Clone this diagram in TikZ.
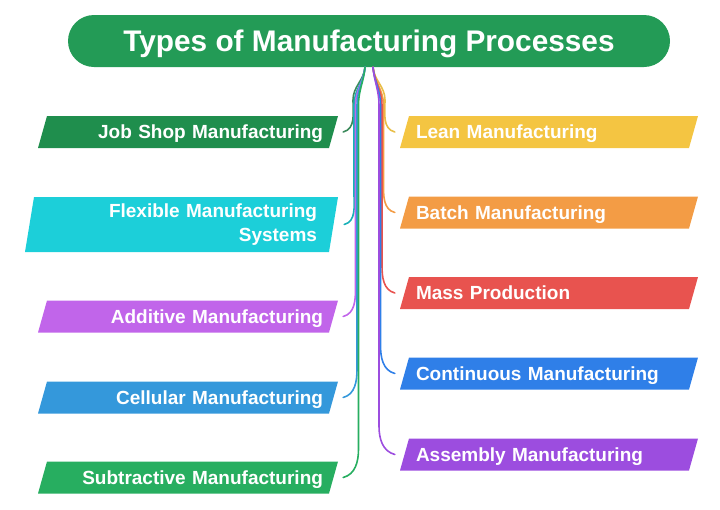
\documentclass[tikz,border=0pt]{standalone}
\usepackage{fontspec}
\setmainfont{Liberation Sans}
\definecolor{titlegreen}{HTML}{239B56}
\definecolor{jobc}{HTML}{1F8E4D}
\definecolor{flexc}{HTML}{1CCFD9}
\definecolor{addc}{HTML}{C165EA}
\definecolor{cellc}{HTML}{3498DB}
\definecolor{subc}{HTML}{27AE60}
\definecolor{leanc}{HTML}{F4C542}
\definecolor{batchc}{HTML}{F39C45}
\definecolor{massc}{HTML}{E8534F}
\definecolor{contc}{HTML}{2F7FE8}
\definecolor{asmc}{HTML}{9C4DDF}
\tikzset{
  slantbox/.style={inner ysep=0pt, minimum height=32pt, text=white,
    text depth=0pt,
    font=\bfseries\fontsize{19}{24}\selectfont,
    path picture={\fill[#1]
      ([xshift=9pt]path picture bounding box.north west) --
      (path picture bounding box.north east) --
      ([xshift=-9pt]path picture bounding box.south east) --
      (path picture bounding box.south west) -- cycle;}},
  lbox/.style={slantbox=#1, inner xsep=15pt, text width=270pt, align=right},
  rbox/.style={slantbox=#1, inner xsep=16pt, text width=266pt, align=left},
  conn/.style={line width=1.6pt, line cap=round},
  titlebox/.style={fill=titlegreen, rounded corners=26pt, minimum width=602pt,
    minimum height=52pt, text=white, text depth=0pt,
    font=\bfseries\fontsize{29.8}{34}\selectfont}
}
\begin{document}
\begin{tikzpicture}[x=1pt,y=-1pt]
\useasboundingbox (0,0) rectangle (720,509);
\node[titlebox] (title) at (369,41) {Types of Manufacturing Processes};

% left boxes
\node[lbox=jobc] (job) at (188,132) {Job Shop Manufacturing};
\node[slantbox=flexc, text depth={}, minimum height=55pt, inner xsep=21pt,
      text width=271pt, align=right] (flex) at (181.5,224.5)
      {Flexible Manufacturing\\Systems};
\node[lbox=addc] (add) at (188,316.5) {Additive Manufacturing};
\node[lbox=cellc] (cell) at (188,397.5) {Cellular Manufacturing};
\node[lbox=subc] (sub) at (188,477.5) {Subtractive Manufacturing};

% right boxes
\node[rbox=leanc] (lean) at (549,132) {Lean Manufacturing};
\node[rbox=batchc] (batch) at (549,212.5) {Batch Manufacturing};
\node[rbox=massc] (mass) at (549,293) {Mass Production};
\node[rbox=contc] (cont) at (549,373.5) {Continuous Manufacturing};
\node[rbox=asmc] (asm) at (549,454.5) {Assembly Manufacturing};

% left connectors
\draw[conn, jobc!70!gray] ([xshift=-4pt]title.south) to[out=-95,in=90] (353,100)
  to[out=-90,in=15] ([xshift=5pt]job.east);
\draw[conn, flexc!85!black] ([xshift=-4pt]title.south) to[out=-95,in=90] (354,105)
  -- (354,194) to[out=-90,in=15] ([xshift=6pt]flex.east);
\draw[conn, addc] ([xshift=-4pt]title.south) to[out=-95,in=90] (355.5,105)
  -- (355.5,288) to[out=-90,in=15] ([xshift=5pt]add.east);
\draw[conn, cellc] ([xshift=-4pt]title.south) to[out=-95,in=90] (357,105)
  -- (357,369) to[out=-90,in=15] ([xshift=5pt]cell.east);
\draw[conn, subc] ([xshift=-4pt]title.south) to[out=-95,in=90] (358.5,105)
  -- (358.5,449) to[out=-90,in=15] ([xshift=5pt]sub.east);

% right connectors
\draw[conn, leanc!90!gray] ([xshift=4pt]title.south) to[out=-85,in=90] (385,100)
  to[out=-90,in=165] ([xshift=-5pt]lean.west);
\draw[conn, batchc] ([xshift=4pt]title.south) to[out=-85,in=90] (383.5,105)
  -- (383.5,184) to[out=-90,in=165] ([xshift=-5pt]batch.west);
\draw[conn, massc] ([xshift=4pt]title.south) to[out=-85,in=90] (382,105)
  -- (382,265) to[out=-90,in=165] ([xshift=-5pt]mass.west);
\draw[conn, contc] ([xshift=4pt]title.south) to[out=-85,in=90] (380.5,105)
  -- (380.5,345) to[out=-90,in=165] ([xshift=-5pt]cont.west);
\draw[conn, asmc] ([xshift=4pt]title.south) to[out=-85,in=90] (379,105)
  -- (379,426) to[out=-90,in=165] ([xshift=-5pt]asm.west);
\end{tikzpicture}
\end{document}
